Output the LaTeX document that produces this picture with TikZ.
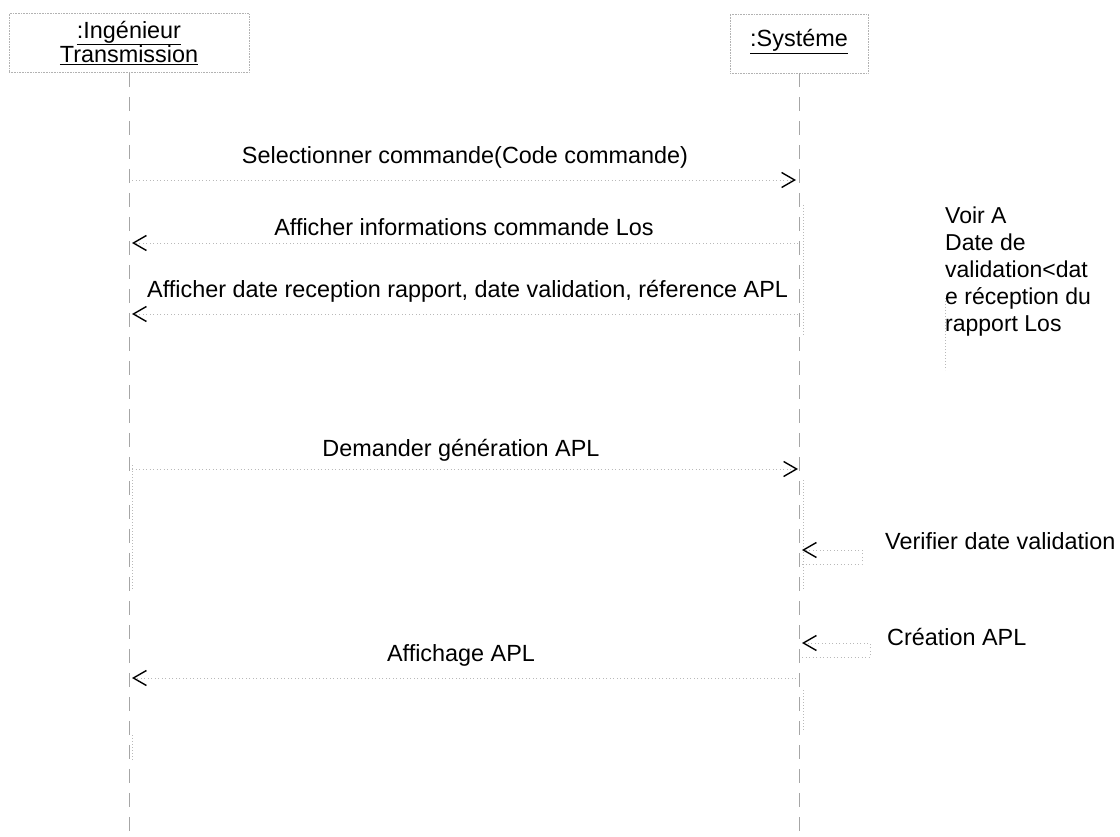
\documentclass[tikz,border=0pt]{standalone}
\usepackage{fontspec}
\setmainfont{Liberation Sans}
\usetikzlibrary{arrows.meta}
\begin{document}
\begin{tikzpicture}[x=1pt,y=-1pt,
  txt/.style={font=\fontsize{23.4}{23.5}\selectfont, inner sep=0pt},
  objbox/.style={txt, draw=gray!60, densely dotted, line width=0.6pt, align=center},
  lifeline/.style={draw=gray!70, dash pattern=on 14pt off 10pt, line width=0.8pt},
  activ/.style={draw=gray!55, dash pattern=on 1pt off 2pt, line width=0.6pt},
  tip/.style={-{Straight Barb[length=13pt,width=15pt,line width=1.4pt,color=black]}},
  msg/.style={draw=gray!55, dash pattern=on 1pt off 2.5pt, line width=0.6pt, tip},
  selfmsg/.style={draw=gray!55, dash pattern=on 1pt off 2.5pt, line width=0.6pt, tip},
]
\useasboundingbox (0,0) rectangle (1120,837);

% participants
\node[objbox, minimum width=240pt, minimum height=59pt] (ing) at (129,43)
  {\raisebox{-2pt}{\underline{:Ingénieur}}\\\raisebox{-2pt}{\underline{Transmission}}};
\node[objbox, minimum width=138pt, minimum height=59pt] (sys) at (799,43.5)
  {\raisebox{11pt}{\underline{:Systéme}}};

% lifelines
\coordinate (ingEnd) at (ing.south |- 0,837);
\coordinate (sysEnd) at (sys.south |- 0,837);
\draw[lifeline] (ing.south) -- (ingEnd);
\draw[lifeline] (sys.south) -- (sysEnd);

% activation bars
\draw[activ] ([xshift=3pt]ing.south |- 0,465) -- ([xshift=3pt]ing.south |- 0,590);
\draw[activ] ([xshift=3pt]ing.south |- 0,735) -- ([xshift=3pt]ing.south |- 0,760);
\draw[activ] ([xshift=4pt]sys.south |- 0,205) -- ([xshift=4pt]sys.south |- 0,335);
\draw[activ] ([xshift=4pt]sys.south |- 0,480) -- ([xshift=4pt]sys.south |- 0,590);
\draw[activ] ([xshift=4pt]sys.south |- 0,690) -- ([xshift=4pt]sys.south |- 0,730);

% message anchors on the lifelines
\foreach \n/\y in {m1/180, m2/243, m3/314, m4/469, m5/678, s1/550, s2/643}{
  \coordinate (\n i) at ([xshift=3pt]ing.south |- 0,\y);
  \coordinate (\n s) at ([xshift=3pt]sys.south |- 0,\y);
}

% messages between the two participants
\draw[msg] (m1i) -- ([xshift=-6pt]m1s);
\node[txt] (l1) at (465,157) {Selectionner commande(Code commande)};

\draw[msg] ([xshift=-4pt]m2s) -- (m2i);
\node[txt] (l2) at (464,227) {Afficher informations commande Los};

\draw[msg] ([xshift=-4pt]m3s) -- (m3i);
\node[txt, anchor=west] (l3) at (147,291) {Afficher date reception rapport, date validation, réference APL};

\draw[msg] (m4i) -- ([xshift=-4pt]m4s);
\node[txt] (l4) at (461,450) {Demander génération APL};

\draw[msg] ([xshift=-6pt]m5s) -- (m5i);
\node[txt] (l5) at (461,655) {Affichage APL};

% self messages on the system
\coordinate (s1r) at ([xshift=60pt]s1s);
\draw[selfmsg] ([yshift=-14pt]s1s) -| (s1r) -- (s1s);
\node[txt, anchor=west] (l6) at (885,541) {Verifier date validation};

\coordinate (s2r) at ([xshift=68pt]s2s);
\draw[selfmsg] ([yshift=-14pt]s2s) -| (s2r) -- (s2s);
\node[txt, anchor=west] (l7) at (887,637) {Création APL};

% note
\node[txt, anchor=north west, align=left, font=\fontsize{23}{27}\selectfont] (note) at (945,207)
  {Voir A\\Date de\\validation<dat\\e réception du\\rapport Los};
\draw[activ] (note.north west |- 0,298) -- (note.north west |- 0,370);
\end{tikzpicture}
\end{document}
